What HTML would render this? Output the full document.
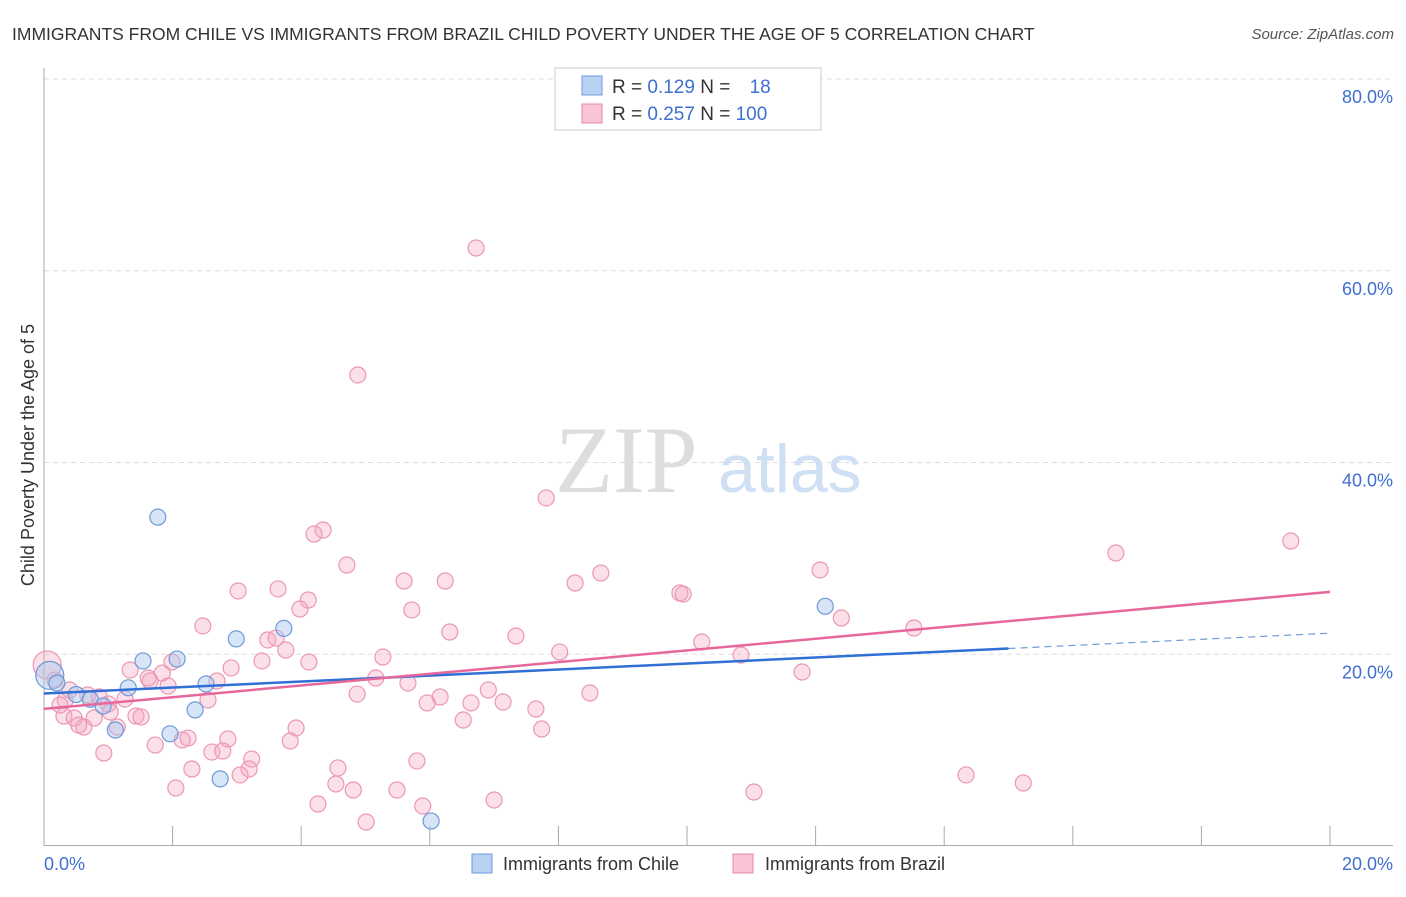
<!DOCTYPE html>
<html><head><meta charset="utf-8">
<style>
body{margin:0;background:#fff;font-family:"Liberation Sans",sans-serif;}
svg text{font-family:"Liberation Sans",sans-serif;}
</style></head>
<body>
<svg width="1406" height="892" viewBox="0 0 1406 892">
<text x="12" y="40" font-size="17.5" fill="#333">IMMIGRANTS FROM CHILE VS IMMIGRANTS FROM BRAZIL CHILD POVERTY UNDER THE AGE OF 5 CORRELATION CHART</text>
<text x="1394" y="39" font-size="15" fill="#555" font-style="italic" text-anchor="end">Source: ZipAtlas.com</text>
<g id="grid"></g>
<g id="axes"></g>
<text x="555" y="492" font-size="95" fill="#ddd" font-family="Liberation Serif" style="font-family:'Liberation Serif',serif">ZIP</text>
<text x="718" y="492" font-size="68" fill="#cfe0f5">atlas</text>
<g id="brazil"></g>
<g id="chile"></g>
<g id="trends"></g>
<text transform="translate(34,455) rotate(-90)" font-size="18" fill="#333" text-anchor="middle">Child Poverty Under the Age of 5</text>
<g>
<rect x="555" y="68" width="266" height="62" fill="#fff" stroke="#ccc"/>
<rect x="582" y="76" width="20" height="19" fill="#b8d2f4" stroke="#6d9bd8"/>
<rect x="582" y="104" width="20" height="19" fill="#f9c4d4" stroke="#e88aa8"/>
<text x="612" y="93" font-size="19" fill="#333">R = <tspan fill="#3f6fd0">0.129</tspan>   N = <tspan fill="#3f6fd0" dx="14">18</tspan></text>
<text x="612" y="120" font-size="19" fill="#333">R = <tspan fill="#3f6fd0">0.257</tspan>   N = <tspan fill="#3f6fd0">100</tspan></text>
</g>
<g>
<rect x="472" y="854" width="20" height="19" fill="#b8d2f4" stroke="#6d9bd8"/>
<text x="503" y="870" font-size="18" fill="#333">Immigrants from Chile</text>
<rect x="733" y="854" width="20" height="19" fill="#f9c4d4" stroke="#e88aa8"/>
<text x="765" y="870" font-size="18" fill="#333">Immigrants from Brazil</text>
</g>
</svg>
<script>
const yTicks=[20,40,60,80];
const xTickLabels=["0.0%","20.0%"];
const chileX=[0.09,0.2,0.5,0.72,0.92,1.11,1.31,1.54,1.77,1.96,2.07,2.35,2.52,2.74,2.99,3.73,6.02,12.15];
const chileY=[17.8,17.0,15.8,15.3,14.6,12.1,16.5,19.3,34.3,11.7,19.5,14.2,16.9,7.0,21.6,22.7,2.6,25.0];
const chileR=[14,8,8,8,8,8,8,8,8,8,8,8,8,8,8,8,8,8];
const brazilPx=[[476,248],[358,375],[546,498],[1291,541],[1116,553],[323,530],[314,534],[347,565],[404,581],[445,581],[575,583],[601,573],[820,570],[278,589],[238,591],[308,600],[300,609],[412,610],[680,593],[683,594],[841,618],[203,626],[450,632],[516,636],[914,628],[702,642],[268,640],[276,638],[286,650],[383,657],[560,652],[741,655],[262,661],[309,662],[130,670],[231,668],[162,673],[172,662],[148,678],[150,681],[217,681],[168,686],[802,672],[376,678],[408,683],[488,690],[590,693],[357,694],[440,697],[427,703],[471,703],[503,702],[536,709],[208,700],[125,699],[99,697],[65,700],[55,680],[108,704],[110,712],[94,718],[64,716],[74,718],[84,727],[79,725],[136,716],[141,717],[117,727],[463,720],[542,729],[296,728],[228,739],[155,745],[188,738],[182,740],[104,753],[212,752],[223,751],[290,741],[252,759],[192,769],[249,769],[240,775],[338,768],[417,761],[966,775],[1023,783],[176,788],[336,784],[353,790],[397,790],[754,792],[318,804],[494,800],[423,806],[366,822],[47,665],[60,705],[70,690],[88,695]];
// convert reading to data values
const brazilX=brazilPx.map(p=>+((p[0]-44)/1286*20).toFixed(2));
const brazilY=brazilPx.map(p=>+((846-p[1])/191.75*20).toFixed(2));
const chileTrend=[[0,15.9],[15,20.6],[20,22.2]];
const brazilTrend=[[0,14.3],[20,26.5]];

const NS="http://www.w3.org/2000/svg";
const X=v=>44+v/20*1286, Y=v=>846-v/20*191.75;
function mk(tag,attrs,parent){const e=document.createElementNS(NS,tag);for(const k in attrs)e.setAttribute(k,attrs[k]);parent.appendChild(e);return e;}
const grid=document.getElementById('grid'),axes=document.getElementById('axes');
yTicks.forEach(t=>{
 const l=mk('line',{x1:44,x2:1393,y1:Y(t),y2:Y(t),stroke:'#ddd','stroke-dasharray':'5,4'},grid);
 
 
 const tx=mk('text',{x:1393,y:Y(t)+24,'font-size':18,fill:'#3f6fd0','text-anchor':'end'},axes);
 tx.textContent=t.toFixed(1)+'%';
 
 
});
mk('line',{x1:44,x2:44,y1:68,y2:846,stroke:'#aaa'},axes);
mk('line',{x1:44,x2:1393,y1:845.5,y2:845.5,stroke:'#aaa'},axes);
for(let i=0;i<=10;i++){const t=mk('line',{x1:X(i*2),x2:X(i*2),y1:826,y2:846,stroke:'#aaa'},axes);
 
 }
[[44,'start',0],[1393,'end',1]].forEach(([x,a,i])=>{const t=mk('text',{x:x,y:870,'font-size':18,fill:'#3f6fd0','text-anchor':a},axes);t.textContent=xTickLabels[i];
 
 });
const bz=document.getElementById('brazil');
brazilX.forEach((v,i)=>{const c=mk('circle',{cx:X(v),cy:Y(brazilY[i]),r:i==96?14:8,fill:'rgba(244,166,192,0.35)',stroke:'#ec97b3','stroke-width':1.2},bz);
 
 });
const ch=document.getElementById('chile');
chileX.forEach((v,i)=>{const c=mk('circle',{cx:X(v),cy:Y(chileY[i]),r:chileR[i],fill:'rgba(169,198,238,0.45)',stroke:'#6d9bd8','stroke-width':1.2},ch);
 
 });
const tr=document.getElementById('trends');
let l1=mk('line',{x1:X(chileTrend[0][0]),y1:Y(chileTrend[0][1]),x2:X(chileTrend[1][0]),y2:Y(chileTrend[1][1]),stroke:'#2f6fd6','stroke-width':2.5},tr);


let l2=mk('line',{x1:X(chileTrend[1][0]),y1:Y(chileTrend[1][1]),x2:X(chileTrend[2][0]),y2:Y(chileTrend[2][1]),stroke:'#6d9bd8','stroke-width':1.2,'stroke-dasharray':'7,5'},tr);


let l3=mk('line',{x1:X(brazilTrend[0][0]),y1:Y(brazilTrend[0][1]),x2:X(brazilTrend[1][0]),y2:Y(brazilTrend[1][1]),stroke:'#e6679a','stroke-width':2.5},tr);


</script>
</body></html>
